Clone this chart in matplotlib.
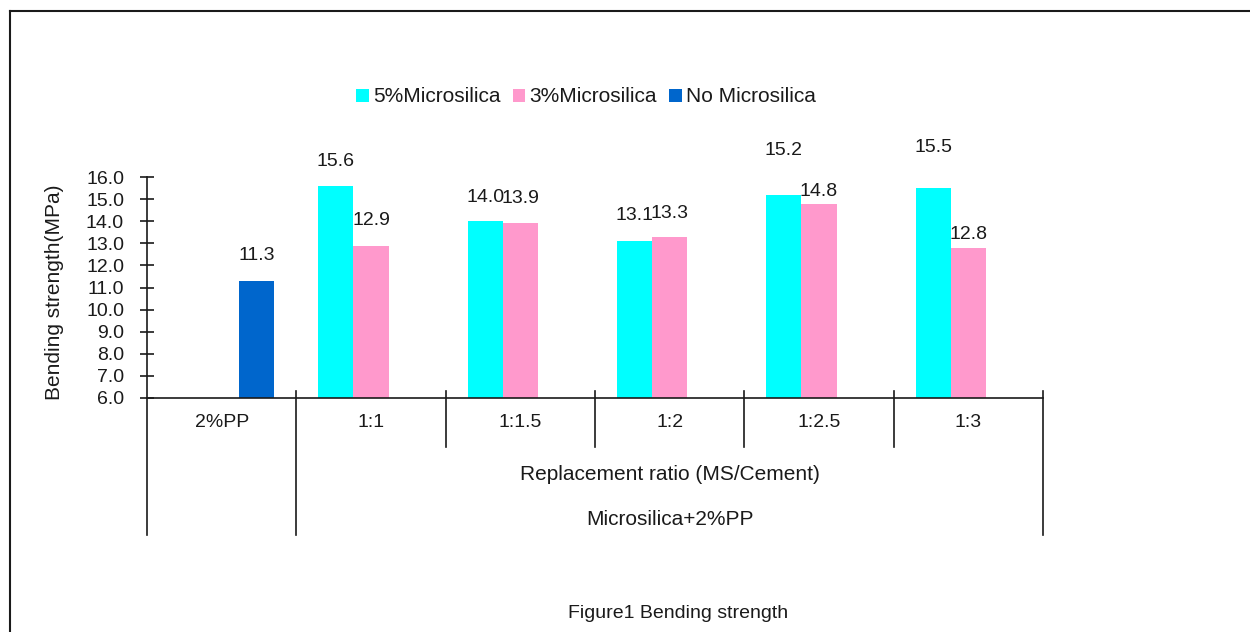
import numpy as np
import matplotlib
matplotlib.use("Agg")
import matplotlib.pyplot as plt
from matplotlib.patches import Patch
from matplotlib.lines import Line2D

plt.rcParams['font.family'] = ['Liberation Sans', 'DejaVu Sans']

# data
categories = ["2%PP", "1:1", "1:1.5", "1:2", "1:2.5", "1:3"]
ms5 = [np.nan, 15.6, 14.0, 13.1, 15.2, 15.5]
ms3 = [np.nan, 12.9, 13.9, 13.3, 14.8, 12.8]
no_ms = [11.3, np.nan, np.nan, np.nan, np.nan, np.nan]

series_names = ["5%Microsilica", "3%Microsilica", "No Microsilica"]
colors = ["#00FFFF", "#FF99CC", "#0066CC"]

# label lift above each bar top, pixels (hand placed in the original)
lift_ms5 = [0, 24, 24, 26, 44, 41]
lift_ms3 = [0, 25, 25, 23, 12, 13]
lift_no = [25, 0, 0, 0, 0, 0]

W, H = 1250, 632
fig = plt.figure(figsize=(W / 100, H / 100), dpi=100)
ax = fig.add_axes([147 / W, 1 - 398 / H, (1043 - 147) / W, (398 - 177) / H])

ink = "#1a1a1a"
fs = 14      # numbers
fs_txt = 15  # words
x = np.arange(len(categories))
w = 0.2345

for j, (vals, lifts) in enumerate(zip([ms5, ms3, no_ms], [lift_ms5, lift_ms3, lift_no])):
    xs = x + (j - 1) * w
    ax.bar(xs, vals, width=w, color=colors[j], linewidth=0)
    for xi, v, lf in zip(xs, vals, lifts):
        if np.isnan(v):
            continue
        ax.annotate(f"{v:.1f}", (xi, v), xytext=(0, lf), textcoords="offset pixels",
                    ha="center", va="center", fontsize=fs, color=ink,
                    annotation_clip=False)

ax.set_xlim(-0.5, len(categories) - 0.5)
ax.set_ylim(6, 16)
ax.set_yticks(np.arange(6, 17, 1))
ax.set_yticklabels([f"{t:.1f}" for t in np.arange(6, 17, 1)])
ax.tick_params(axis="y", direction="inout", length=10, width=1.2, pad=11.5,
               labelsize=fs, colors=ink)
ax.set_xticks([])
for s in ["top", "right"]:
    ax.spines[s].set_visible(False)
for s in ["left", "bottom"]:
    ax.spines[s].set_color(ink)
    ax.spines[s].set_linewidth(1.2)

# category boundaries below the axis
tr = ax.get_xaxis_transform()
for b in range(len(categories) + 1):
    xb = b - 0.5
    if b in (0, 1, len(categories)):
        y0, y1 = 0.03, -0.62
    else:
        y0, y1 = 0.03, -0.222
    if b == 0:
        y0 = 0
    ax.plot([xb, xb], [y0, y1], transform=tr, color=ink, lw=1.2, clip_on=False)

for i, c in enumerate(categories):
    ax.text(i, -0.113, c, transform=tr, ha="center", va="center", fontsize=fs, color=ink)
mid = (0.5 + len(categories) - 0.5) / 2
ax.text(mid, -0.348, "Replacement ratio (MS/Cement)", transform=tr,
        ha="center", va="center", fontsize=fs_txt, color=ink)
ax.text(mid, -0.552, "Microsilica+2%PP", transform=tr,
        ha="center", va="center", fontsize=fs_txt, color=ink)

fig.text(55 / W, 1 - 292 / H, "Bending strength(MPa)", rotation=90,
         ha="center", va="center", fontsize=fs_txt, color=ink)
fig.text(678 / W, 1 - 613 / H, "Figure1 Bending strength",
         ha="center", va="center", fontsize=fs, color=ink)

handles = [Patch(facecolor=c, edgecolor="none") for c in colors]
fig.legend(handles, series_names, loc="center", bbox_to_anchor=(586 / W, 1 - 97 / H),
           ncol=3, frameon=False, fontsize=fs_txt, handlelength=0.6, handleheight=0.6,
           handletextpad=0.2, columnspacing=0.6, borderpad=0, labelcolor=ink)

# page border
fig.add_artist(Line2D([10 / W, 10 / W], [0, 1 - 11 / H], color=ink, lw=1.5))
fig.add_artist(Line2D([10 / W, 1], [1 - 11 / H, 1 - 11 / H], color=ink, lw=1.5))

fig.savefig("out.png", dpi=100)
